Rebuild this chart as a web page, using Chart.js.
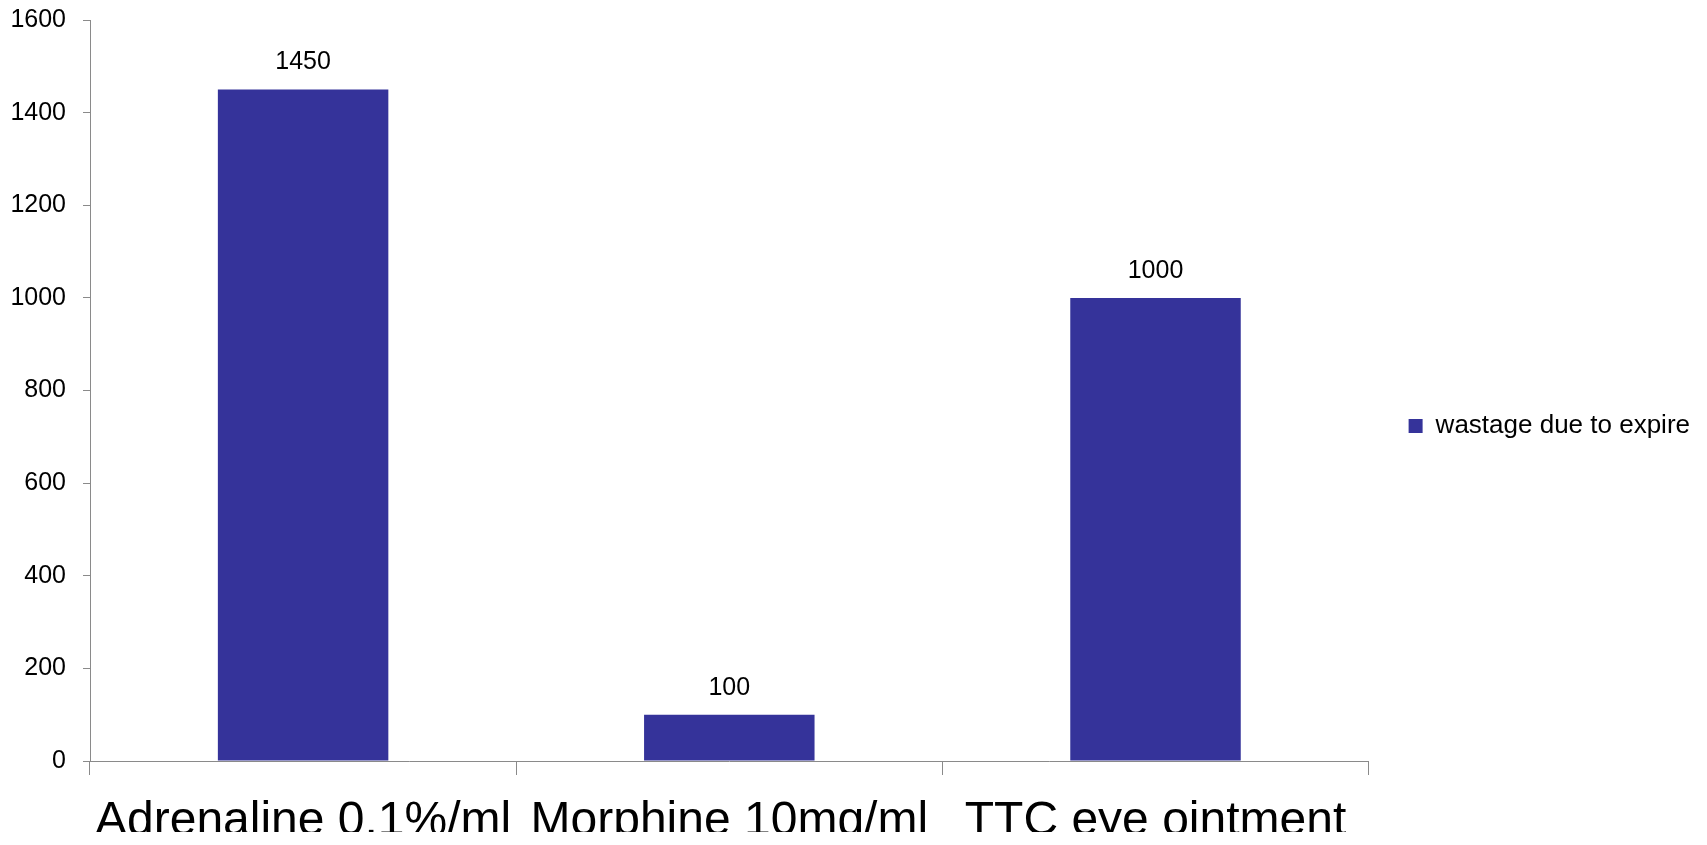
<!DOCTYPE html>
<html>
<head>
<meta charset="utf-8">
<title>Wastage due to expire</title>
<script src="https://cdn.jsdelivr.net/npm/chart.js@4.4.1/dist/chart.umd.min.js"></script>
<style>
  html, body { margin: 0; padding: 0; background: #ffffff; overflow: hidden; }
  #wrap { position: relative; width: 1707px; height: 845px; }
</style>
</head>
<body>
<div id="wrap"><canvas id="chart"></canvas></div>
<script>
// Data
const categories = ['Adrenaline 0.1%/ml', 'Morphine 10mg/ml', 'TTC eye ointment'];
const seriesName = 'wastage due to expire';
const wastageValues = [1450, 100, 1000];
const yTicks = [0, 200, 400, 600, 800, 1000, 1200, 1400, 1600];

const FONT = '"Liberation Sans", Arial, Helvetica, sans-serif';
const BAR_COLOR = '#35339a';
const AXIS_COLOR = '#8a8a8a';

// Value labels above each bar, placed from the bar elements
const valueLabels = {
  id: 'valueLabels',
  afterDatasetsDraw(chart) {
    const ctx = chart.ctx;
    ctx.save();
    ctx.font = '25px ' + FONT;
    ctx.fillStyle = '#000000';
    ctx.textAlign = 'center';
    ctx.textBaseline = 'middle';
    chart.data.datasets.forEach((ds, di) => {
      chart.getDatasetMeta(di).data.forEach((bar, i) => {
        ctx.fillText(String(ds.data[i]), bar.x, bar.y - 27);
      });
    });
    ctx.restore();
  }
};

new Chart(document.getElementById('chart'), {
  type: 'bar',
  data: {
    labels: categories,
    datasets: [{
      label: seriesName,
      data: wastageValues,
      backgroundColor: BAR_COLOR,
      borderWidth: 0,
      categoryPercentage: 1.0,
      barPercentage: 0.4
    }]
  },
  options: {
    responsive: true,
    maintainAspectRatio: false,
    animation: false,
    layout: { padding: { top: 20, right: 7, bottom: 13, left: 0 } },
    plugins: {
      tooltip: { enabled: false },
      legend: {
        position: 'right',
        align: 'center',
        labels: {
          boxWidth: 14,
          boxHeight: 14,
          padding: 40,
          color: '#000000',
          font: { family: FONT, size: 26 }
        }
      }
    },
    scales: {
      x: {
        offset: true,
        border: { display: true, color: AXIS_COLOR, width: 1 },
        grid: {
          offset: true,
          drawOnChartArea: false,
          drawTicks: true,
          tickLength: 14,
          color: AXIS_COLOR
        },
        ticks: {
          color: '#000000',
          font: { family: FONT, size: 48 },
          padding: 18,
          maxRotation: 0,
          autoSkip: false
        },
        afterFit(scale) { scale.height = 71; }
      },
      y: {
        min: 0,
        max: 1600,
        border: { display: true, color: AXIS_COLOR, width: 1 },
        grid: {
          drawOnChartArea: false,
          drawTicks: true,
          tickLength: 7,
          color: AXIS_COLOR
        },
        afterBuildTicks(scale) {
          scale.ticks = yTicks.map(v => ({ value: v }));
        },
        ticks: {
          color: '#000000',
          font: { family: FONT, size: 25 },
          padding: 17,
          callback: (value) => String(value)
        },
        afterFit(scale) {
          scale.width = 90;
          // only half a label height is needed above the top tick
          scale.paddingTop = 15;
          scale.paddingBottom = 15;
        }
      }
    }
  },
  plugins: [valueLabels]
});
</script>
</body>
</html>
